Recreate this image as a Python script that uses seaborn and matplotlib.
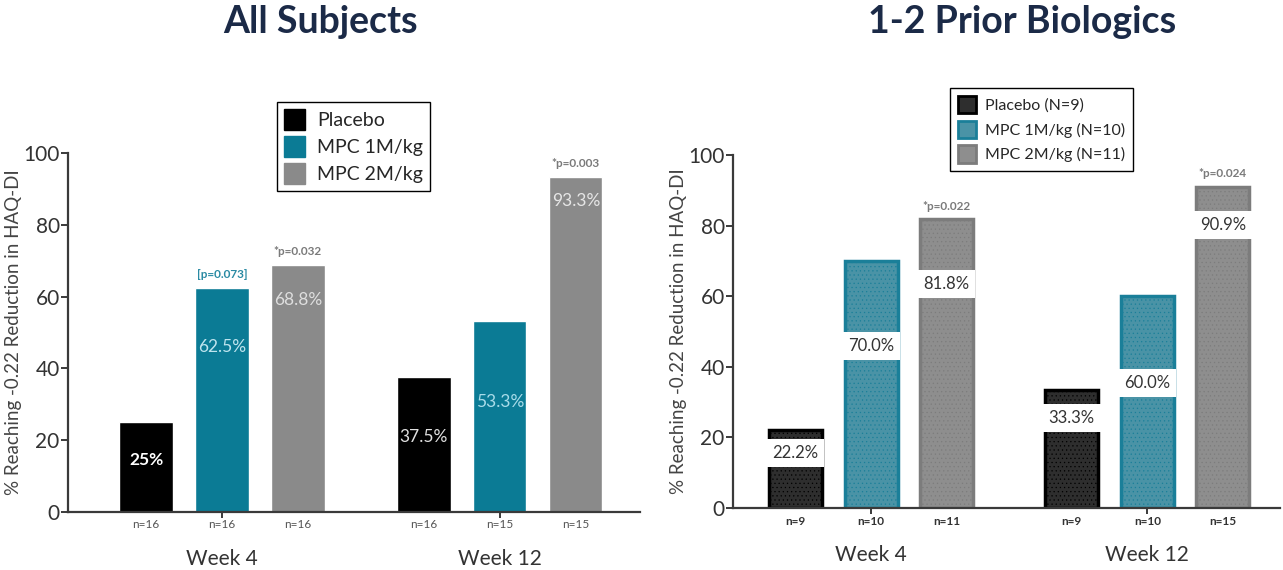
import matplotlib
matplotlib.use("Agg")
import matplotlib.pyplot as plt
import pandas as pd
import seaborn as sns
from matplotlib.patches import Patch

weeks = ["Week 4", "Week 12"]
groups = ["Placebo", "MPC 1M/kg", "MPC 2M/kg"]

# All subjects
all_placebo = [25.0, 37.5]
all_mpc1 = [62.5, 53.3]
all_mpc2 = [68.8, 93.3]
all_n_placebo = [16, 16]
all_n_mpc1 = [16, 15]
all_n_mpc2 = [16, 15]
all_p_mpc1 = ["[p=0.073]", ""]
all_p_mpc2 = ["*p=0.032", "*p=0.003"]
all_text = ["25%", "37.5%", "62.5%", "53.3%", "68.8%", "93.3%"]

# 1-2 prior biologics
bio_placebo = [22.2, 33.3]
bio_mpc1 = [70.0, 60.0]
bio_mpc2 = [81.8, 90.9]
bio_n_placebo = [9, 9]
bio_n_mpc1 = [10, 10]
bio_n_mpc2 = [11, 15]
bio_p_mpc2 = ["*p=0.022", "*p=0.024"]
bio_text = ["22.2%", "33.3%", "70.0%", "60.0%", "81.8%", "90.9%"]
bio_legend = ["Placebo (N=9)", "MPC 1M/kg (N=10)", "MPC 2M/kg (N=11)"]

# where the value labels sit inside the bars (layout only)
all_text_y = [14.5, 21.0, 46.0, 30.5, 59.0, 86.5]
bio_text_y = [15.6, 25.5, 45.9, 35.4, 63.5, 80.2]


def frame(placebo, mpc1, mpc2):
    rows = []
    for g, vals in zip(groups, [placebo, mpc1, mpc2]):
        for w, v in zip(weeks, vals):
            rows.append({"week": w, "group": g, "value": v})
    return pd.DataFrame(rows)


sns.set_style("white")
plt.rcParams["font.family"] = ["Lato", "DejaVu Sans"]
plt.rcParams["hatch.linewidth"] = 0.4

fig = plt.figure(figsize=(12.83, 5.70), dpi=100)
ax1 = fig.add_axes([0.053, 0.1018, 0.4458, 0.630])
ax2 = fig.add_axes([0.5713, 0.1088, 0.4263, 0.619])

all_colors = ["#000000", "#0b7b95", "#8a8a8a"]
bio_colors = ["#2e2e2e", "#4a93a6", "#8e8e8e"]
bio_edges = ["#000000", "#1a7f99", "#7c7c7c"]

sns.barplot(data=frame(all_placebo, all_mpc1, all_mpc2), x="week", y="value",
            hue="group", order=weeks, hue_order=groups, palette=all_colors,
            width=0.82, gap=0.3, saturation=1, legend=False, ax=ax1)
sns.barplot(data=frame(bio_placebo, bio_mpc1, bio_mpc2), x="week", y="value",
            hue="group", order=weeks, hue_order=groups, palette=bio_colors,
            width=0.82, gap=0.3, saturation=1, legend=False, ax=ax2)

for i, cont in enumerate(ax2.containers):
    for bar in cont:
        bar.set_edgecolor(bio_edges[i])
        bar.set_linewidth(2.5)
        bar.set_hatch("....")

ylabel = "% Reaching -0.22 Reduction in HAQ-DI"
for ax, xl in [(ax1, (-0.554, 1.504)), (ax2, (-0.50, 1.48))]:
    ax.set_ylim(0, 100)
    ax.set_xlim(*xl)
    ax.set_yticks([0, 20, 40, 60, 80, 100])
    sns.despine(ax=ax, top=True, right=True)
    for s in ["left", "bottom"]:
        ax.spines[s].set_color("#3a3a3a")
        ax.spines[s].set_linewidth(1.6)
    ax.tick_params(axis="y", which="both", left=True, length=5, width=1.4,
                   color="#3a3a3a", labelsize=15, labelcolor="#333333", pad=1)
    ax.tick_params(axis="x", bottom=True, length=4, width=1.4, color="#3a3a3a",
                   labelsize=15, labelcolor="#333333", pad=23)
    ax.set_xlabel("")
    ax.set_ylabel(ylabel, fontsize=13.5, color="#444444", labelpad=1)

# value labels, n labels, p-values (left)
all_n = [all_n_placebo, all_n_mpc1, all_n_mpc2]
all_p = [["", ""], all_p_mpc1, all_p_mpc2]
all_txt_colors = ["#ffffff", "#e0e0e0", "#bfe4ee", "#a9dce9", "#dedede", "#e6e6e6"]
k = 0
for i, cont in enumerate(ax1.containers):
    for j, bar in enumerate(cont):
        xc = bar.get_x() + bar.get_width() / 2
        h = bar.get_height()
        ax1.text(xc, all_text_y[k], all_text[k], ha="center", va="center",
                 fontsize=12.5, color=all_txt_colors[k],
                 fontweight="bold" if k == 0 else "normal")
        ax1.text(xc, -3.4, f"n={all_n[i][j]}", ha="center", va="center",
                 fontsize=8.5, color="#555555", clip_on=False)
        if all_p[i][j]:
            pc = "#2a8aa3" if i == 1 else "#7a7a7a"
            ax1.text(xc, h + 2.2, all_p[i][j], ha="center", va="bottom",
                     fontsize=8.5, color=pc, fontweight="bold", clip_on=False)
        k += 1

# value labels, n labels, p-values (right)
bio_n = [bio_n_placebo, bio_n_mpc1, bio_n_mpc2]
bio_p = [["", ""], ["", ""], bio_p_mpc2]
k = 0
for i, cont in enumerate(ax2.containers):
    for j, bar in enumerate(cont):
        xc = bar.get_x() + bar.get_width() / 2
        h = bar.get_height()
        ax2.text(xc, bio_text_y[k], bio_text[k], ha="center", va="center",
                 fontsize=12, color="#333333",
                 bbox=dict(boxstyle="square,pad=0.35", facecolor="white",
                           edgecolor="none"))
        ax2.text(xc, -3.7, f"n={bio_n[i][j]}", ha="center", va="center",
                 fontsize=8.5, color="#333333", fontweight="bold", clip_on=False)
        if bio_p[i][j]:
            ax2.text(xc, h + 2.2, bio_p[i][j], ha="center", va="bottom",
                     fontsize=8.5, color="#7a7a7a", fontweight="bold", clip_on=False)
        k += 1

# legends
h1 = [Patch(facecolor=c, edgecolor=c) for c in all_colors]
fig.legend(h1, groups, loc="upper left", bbox_to_anchor=(0.216, 0.821),
           frameon=True, fancybox=False, edgecolor="#000000", fontsize=14,
           handlelength=1.1, handleheight=1.3, handletextpad=0.6,
           labelspacing=0.3, borderpad=0.35, borderaxespad=0, framealpha=1)
h2 = [Patch(facecolor=c, edgecolor=e, linewidth=2.0) for c, e in zip(bio_colors, bio_edges)]
fig.legend(h2, bio_legend, loc="upper left", bbox_to_anchor=(0.7405, 0.8456),
           frameon=True, fancybox=False, edgecolor="#000000", fontsize=11.5,
           handlelength=1.1, handleheight=1.3, handletextpad=0.6,
           labelspacing=0.45, borderpad=0.5, borderaxespad=0, framealpha=1)

# titles
fig.text(0.25, 0.962, "All Subjects", ha="center", va="center",
         fontsize=27, fontweight="bold", color="#1b2a47")
fig.text(0.797, 0.962, "1-2 Prior Biologics", ha="center", va="center",
         fontsize=27, fontweight="bold", color="#1b2a47")

fig.savefig("out.png", dpi=100)
plt.close(fig)
